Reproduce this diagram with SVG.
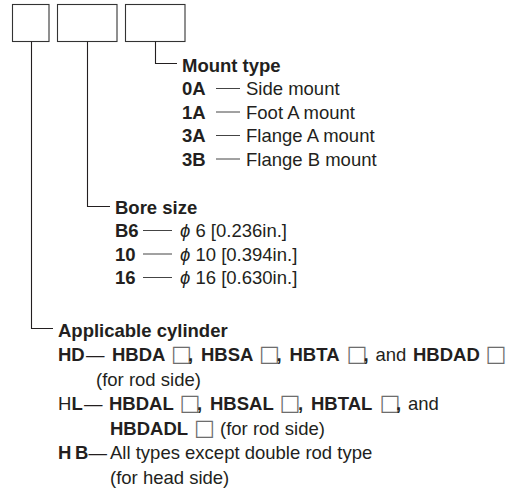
<svg xmlns="http://www.w3.org/2000/svg" width="518" height="490" viewBox="0 0 518 490">
<style>
text{font-family:"Liberation Sans",Arial,sans-serif;font-size:18.5px;fill:#231f20}
.b{font-weight:bold}
.sq{font-family:"DejaVu Sans",sans-serif;font-size:22px;font-weight:normal;fill:#6d6d6d;letter-spacing:-5.5px}
.ln{stroke:#231f20;stroke-width:1.1;fill:none}
.dl{stroke:#444;stroke-width:1;fill:none}
.bx{stroke:#333;stroke-width:1.1;fill:#fff}
</style>
<rect width="518" height="490" fill="#fff"/>
<g id="box1"><rect class="bx" x="12.5" y="4.5" width="36.5" height="37"/></g>
<g id="box2"><rect class="bx" x="57.5" y="4.5" width="59.5" height="37"/></g>
<g id="box3"><rect class="bx" x="125.5" y="4.5" width="59.5" height="37"/></g>
<g id="connectors">
<path class="ln" d="M155.5 41.5V63.5H177"/>
<path class="ln" d="M87.5 41.5V206.5H110"/>
<path class="ln" d="M31.5 41.5V328.5H53"/>
<path class="dl" d="M216 88.5H240M216 112H240M216 135.5H240M216 159H240"/>
<path class="dl" d="M143 230.5H172M143 254H172M143 277.5H172"/>
</g>
<g id="mount">
<text class="b" x="182" y="71.6">Mount type</text>
<text class="b" x="182" y="95.1">0A</text><text x="246" y="95.1">Side mount</text>
<text class="b" x="182" y="118.6">1A</text><text x="246" y="118.6">Foot A mount</text>
<text class="b" x="182" y="142.1">3A</text><text x="246" y="142.1">Flange A mount</text>
<text class="b" x="182" y="165.6">3B</text><text x="246" y="165.6">Flange B mount</text>
</g>
<g id="bore">
<text class="b" x="115" y="213.6">Bore size</text>
<text class="b" x="115" y="237.1">B6</text><text x="180" y="237.1"><tspan font-style="italic">ϕ</tspan> 6 [0.236in.]</text>
<text class="b" x="115" y="260.6">10</text><text x="180" y="260.6"><tspan font-style="italic">ϕ</tspan> 10 [0.394in.]</text>
<text class="b" x="115" y="284.1">16</text><text x="180" y="284.1"><tspan font-style="italic">ϕ</tspan> 16 [0.630in.]</text>
</g>
<g id="cylinder">
<text class="b" x="58" y="336.6">Applicable cylinder</text>
<text y="360.6"><tspan class="b" x="58">HD</tspan><tspan x="86">—</tspan><tspan class="b" x="112">HBDA</tspan><tspan class="sq" x="171">□</tspan><tspan class="b" x="188">, </tspan><tspan class="b" x="201">HBSA</tspan><tspan class="sq" x="259">□</tspan><tspan class="b" x="276.5">, </tspan><tspan class="b" x="289.5">HBTA</tspan><tspan class="sq" x="346.5">□</tspan><tspan class="b" x="363.5">,</tspan><tspan x="375.5">and</tspan><tspan class="b" x="413">HBDAD</tspan><tspan class="sq" x="485.5">□</tspan></text>
<text x="96" y="385.6">(for rod side)</text>
<text y="410.1"><tspan x="58">H</tspan><tspan class="b">L</tspan><tspan x="84">—</tspan><tspan class="b" x="109">HBDAL</tspan><tspan class="sq" x="179.5">□</tspan><tspan class="b" x="197">, </tspan><tspan class="b" x="210">HBSAL</tspan><tspan class="sq" x="279.5">□</tspan><tspan class="b" x="298">, </tspan><tspan class="b" x="311">HBTAL</tspan><tspan class="sq" x="379.5">□</tspan><tspan class="b" x="396">,</tspan><tspan x="408">and</tspan></text>
<text y="434.6"><tspan class="b" x="110">HBDADL</tspan><tspan class="sq" x="194">□</tspan><tspan x="220">(for rod side)</tspan></text>
<text y="459.1"><tspan class="b" x="58">H</tspan><tspan class="b" x="75">B</tspan><tspan x="88.6">—</tspan><tspan x="110">All types except double rod type</tspan></text>
<text x="110" y="483.6">(for head side)</text>
</g>
</svg>
